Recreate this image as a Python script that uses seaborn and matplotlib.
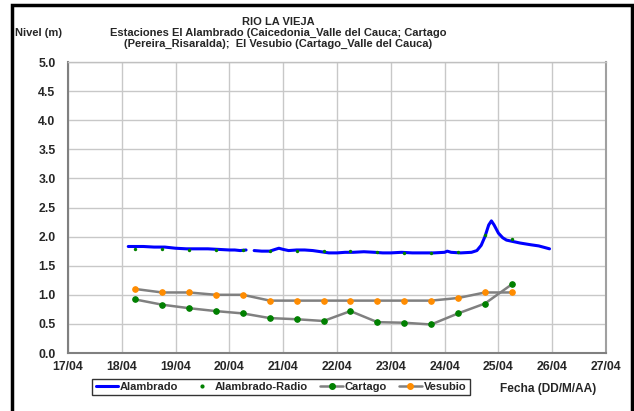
import matplotlib
matplotlib.use("Agg")
import matplotlib.pyplot as plt
import seaborn as sns
import pandas as pd
import numpy as np
from matplotlib.lines import Line2D
from matplotlib.patches import Rectangle
from matplotlib import font_manager

# Alambrado (continuous record), day of April as decimal; gap around 20/04 evening
alambrado_dia = [18.12, 18.40, 18.60, 18.80, 19.00, 19.20, 19.40, 19.60, 19.80, 20.00,
                 20.10, 20.20, 20.31,
                 20.46, 20.60, 20.75, 20.85, 20.92, 21.00, 21.10, 21.25, 21.40, 21.55,
                 21.70, 21.85, 22.00, 22.15, 22.30, 22.50, 22.70, 22.85, 23.00, 23.20,
                 23.40, 23.60, 23.80, 24.00, 24.05, 24.12, 24.30, 24.50, 24.60, 24.68,
                 24.75, 24.82, 24.87, 24.92, 25.00, 25.08, 25.15, 25.25, 25.40, 25.60,
                 25.75, 25.95]
alambrado_nivel = [1.83, 1.83, 1.82, 1.82, 1.80, 1.79, 1.79, 1.79, 1.78, 1.77,
                   1.77, 1.76, 1.77,
                   1.76, 1.75, 1.75, 1.78, 1.80, 1.78, 1.76, 1.77, 1.77, 1.76,
                   1.74, 1.72, 1.72, 1.73, 1.73, 1.74, 1.73, 1.72, 1.72, 1.73,
                   1.72, 1.72, 1.72, 1.73, 1.75, 1.73, 1.72, 1.73, 1.76, 1.85,
                   2.00, 2.20, 2.27, 2.20, 2.06, 1.98, 1.94, 1.92, 1.89, 1.86,
                   1.84, 1.79]
# first 13 readings before the gap, rest after it
alambrado_tramo = [0 if i < 13 else 1 for i in range(len(alambrado_dia))]

# twice-daily readings
lectura_dia = [18.25, 18.75, 19.25, 19.75, 20.25, 20.75, 21.25, 21.75, 22.25,
               22.75, 23.25, 23.75, 24.25, 24.75, 25.25]
radio_nivel = [1.79, 1.78, 1.77, 1.77, 1.77, 1.75, 1.75, 1.75, 1.75,
               1.74, 1.72, 1.71, 1.74, 2.03, 1.96]
cartago_nivel = [0.92, 0.83, 0.77, 0.72, 0.68, 0.60, 0.58, 0.55, 0.72,
                 0.53, 0.52, 0.49, 0.68, 0.85, 1.18]
vesubio_nivel = [1.10, 1.04, 1.04, 1.00, 1.00, 0.90, 0.90, 0.90, 0.90,
                 0.90, 0.90, 0.90, 0.945, 1.04, 1.04]

dias_ticks = list(range(17, 28))
dias_labels = ["%02d/04" % d for d in dias_ticks]

df_alam = pd.DataFrame({"dia": alambrado_dia, "nivel": alambrado_nivel, "tramo": alambrado_tramo})
df_lect = pd.DataFrame({"dia": lectura_dia, "radio": radio_nivel,
                        "cartago": cartago_nivel, "vesubio": vesubio_nivel})

sns.set_style("white")
plt.rcParams["font.family"] = ["Liberation Sans", "DejaVu Sans"]
plt.rcParams["font.weight"] = "bold"

# the title in the original is set in a tight, condensed bold face
nombres = {f.name for f in font_manager.fontManager.ttflist}
if "Liberation Sans Narrow" in nombres:
    titulo_familia, titulo_fs = ["Liberation Sans Narrow", "DejaVu Sans"], 9.2
else:
    titulo_familia, titulo_fs = ["Liberation Sans", "DejaVu Sans"], 8.0

fig = plt.figure(figsize=(6.34, 4.11), dpi=100)
ax = fig.add_axes([68 / 634, 1 - 353 / 411, (606 - 68) / 634, (353 - 62) / 411])

gris = "#808080"
sns.lineplot(data=df_lect, x="dia", y="vesubio", ax=ax, color=gris, lw=1.8,
             marker="o", markersize=4, markerfacecolor="#ff8c00", markeredgecolor="#ff8c00",
             zorder=3)
sns.lineplot(data=df_lect, x="dia", y="cartago", ax=ax, color=gris, lw=1.8,
             marker="o", markersize=4, markerfacecolor="#008000", markeredgecolor="#008000",
             zorder=3)
sns.lineplot(data=df_alam, x="dia", y="nivel", units="tramo", estimator=None, ax=ax,
             color="#0000ff", lw=2.2, zorder=4)
sns.scatterplot(data=df_lect, x="dia", y="radio", ax=ax, color="#008000", s=6,
                linewidth=0, zorder=5)

ax.set_xlim(17, 27)
ax.set_ylim(0, 5)
ax.set_xticks(dias_ticks)
ax.set_xticklabels(dias_labels)
ax.set_yticks(np.arange(0, 5.01, 0.5))
ax.set_yticklabels(["%.1f" % v for v in np.arange(0, 5.01, 0.5)])
ax.tick_params(axis="both", labelsize=8.8, length=4, width=1, color=gris, direction="out")
ax.tick_params(axis="y", pad=5)
ax.tick_params(axis="x", pad=1.5)
ax.set_xlabel("")
ax.set_ylabel("")
ax.grid(True, color="#c8c8c8", lw=1)
ax.set_axisbelow(True)
for s in ["left", "bottom"]:
    ax.spines[s].set_color(gris)
    ax.spines[s].set_linewidth(1.5)
ax.spines["top"].set_color("#c0c0c0")
ax.spines["top"].set_linewidth(1.0)
ax.spines["right"].set_color("#a0a0a0")
ax.spines["right"].set_linewidth(1.5)
if ax.get_legend():
    ax.get_legend().remove()

fig.text(278 / 634, 1 - 22 / 411, "RIO LA VIEJA", ha="center", va="center",
         fontsize=titulo_fs, fontweight="bold", family=titulo_familia)
fig.text(278 / 634, 1 - 33 / 411, "Estaciones El Alambrado (Caicedonia_Valle del Cauca; Cartago",
         ha="center", va="center", fontsize=titulo_fs, fontweight="bold", family=titulo_familia)
fig.text(278 / 634, 1 - 44 / 411, "(Pereira_Risaralda);  El Vesubio (Cartago_Valle del Cauca)",
         ha="center", va="center", fontsize=titulo_fs, fontweight="bold", family=titulo_familia)
fig.text(15 / 634, 1 - 33 / 411, "Nivel (m)", ha="left", va="center", fontsize=titulo_fs,
         fontweight="bold", family=titulo_familia)
fig.text(596 / 634, 1 - 389 / 411, "Fecha (DD/M/AA)", ha="right", va="center", fontsize=8.6,
         fontweight="bold")

handles = [
    Line2D([], [], color="#0000ff", lw=2.2),
    Line2D([], [], color="#008000", lw=0, marker="o", markersize=2),
    Line2D([], [], color=gris, lw=1.8, marker="o", markersize=4,
           markerfacecolor="#008000", markeredgecolor="#008000"),
    Line2D([], [], color=gris, lw=1.8, marker="o", markersize=4,
           markerfacecolor="#ff8c00", markeredgecolor="#ff8c00"),
]
labels = ["Alambrado", "Alambrado-Radio", "Cartago", "Vesubio"]
leg = fig.legend(handles, labels, loc="center", bbox_to_anchor=(281 / 634, 1 - 387 / 411),
                 ncol=4, fontsize=8, frameon=True, fancybox=False, handlelength=2.0,
                 handletextpad=0.2, columnspacing=1.1, borderpad=0.3)
leg.get_frame().set_edgecolor("black")
leg.get_frame().set_linewidth(1.0)
for t in leg.get_texts():
    t.set_fontweight("bold")

# outer black frame of the chart (open at the bottom)
fig.patches.append(Rectangle((11.5 / 634, -0.05), (631.5 - 11.5) / 634, 1.05 - 5.5 / 411,
                             transform=fig.transFigure, fill=False, edgecolor="black",
                             lw=2.5, zorder=10))

fig.savefig("out.png", dpi=100)
